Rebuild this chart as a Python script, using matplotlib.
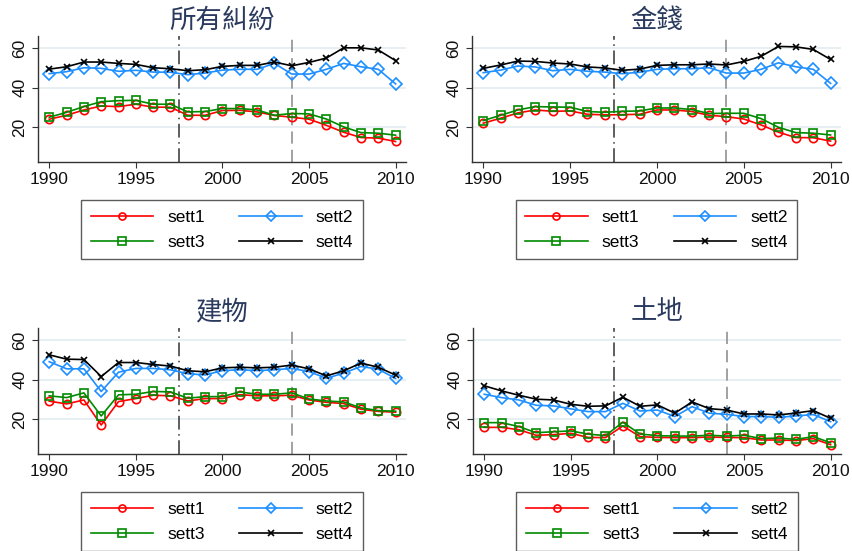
import matplotlib
matplotlib.use("Agg")
import matplotlib.pyplot as plt
from matplotlib.lines import Line2D

plt.rcParams['font.family'] = ['Liberation Sans', 'Noto Sans CJK TC', 'DejaVu Sans']

years = list(range(1990, 2011))

panel_titles = ["所有糾紛", "金錢", "建物", "土地"]
series_names = ["sett1", "sett2", "sett3", "sett4"]

# 所有糾紛
all_sett1 = [24.1, 26.1, 28.8, 30.8, 30.5, 31.7, 30.2, 30.2, 26.1, 26.1, 28.5,
             28.6, 27.8, 26.0, 25.1, 24.1, 21.0, 17.5, 14.8, 14.5, 12.8]
all_sett2 = [47.2, 48.2, 50.2, 49.9, 48.4, 48.9, 48.0, 47.9, 46.7, 47.5, 49.0,
             49.4, 49.4, 52.4, 47.0, 47.0, 49.4, 52.4, 50.7, 49.4, 42.0]
all_sett3 = [25.1, 27.6, 30.5, 33.0, 33.5, 33.7, 31.7, 31.7, 27.8, 28.0, 29.5,
             29.5, 28.8, 26.1, 27.0, 26.8, 24.2, 20.2, 17.3, 17.0, 16.0]
all_sett4 = [49.5, 50.7, 53.1, 53.1, 52.4, 51.9, 50.2, 49.7, 48.7, 49.2, 50.9,
             51.4, 51.4, 53.1, 51.2, 52.9, 55.1, 60.3, 60.3, 59.2, 53.8]

# 金錢
money_sett1 = [22.1, 24.6, 27.3, 28.8, 28.1, 28.3, 26.6, 26.3, 26.4, 26.6, 28.8,
               28.8, 28.0, 26.1, 25.4, 24.2, 21.2, 17.5, 14.8, 14.7, 13.0]
money_sett2 = [47.7, 49.0, 51.1, 50.6, 48.7, 49.4, 48.4, 48.0, 47.2, 47.9, 49.4,
               49.7, 49.7, 50.2, 47.5, 47.5, 49.4, 52.7, 50.7, 49.4, 42.3]
money_sett3 = [23.4, 26.1, 28.8, 30.5, 30.3, 30.2, 28.0, 27.6, 28.1, 28.3, 29.8,
               29.8, 29.0, 27.0, 27.1, 27.1, 24.4, 20.0, 17.3, 17.0, 16.1]
money_sett4 = [49.9, 51.6, 53.6, 53.4, 52.6, 52.1, 50.6, 50.1, 48.9, 49.5, 51.4,
               51.7, 51.7, 52.1, 51.6, 53.4, 56.0, 61.0, 60.8, 59.5, 54.4]

# 建物
bldg_sett1 = [29.2, 27.8, 29.8, 17.1, 29.0, 30.5, 32.2, 31.9, 29.3, 30.5, 30.5,
              32.5, 31.9, 31.9, 32.2, 29.8, 28.6, 28.0, 25.1, 24.0, 23.6]
bldg_sett2 = [49.2, 45.6, 45.6, 34.1, 43.9, 45.8, 45.8, 45.1, 43.1, 42.5, 44.7,
              45.1, 44.7, 45.1, 45.8, 44.2, 40.8, 43.4, 46.8, 45.4, 40.7]
bldg_sett3 = [31.9, 31.0, 33.4, 21.7, 32.4, 32.7, 34.1, 33.9, 30.7, 31.5, 31.5,
              33.9, 32.7, 32.7, 33.4, 30.3, 29.3, 28.8, 25.8, 24.4, 24.1]
bldg_sett4 = [52.7, 50.5, 50.3, 41.7, 48.8, 48.8, 47.8, 47.0, 44.6, 44.1, 46.1,
              46.4, 46.1, 46.4, 47.5, 45.6, 42.0, 44.6, 48.5, 46.4, 42.4]

# 土地
land_sett1 = [15.9, 15.9, 14.7, 11.9, 12.2, 12.9, 10.8, 10.7, 16.6, 11.2, 10.8,
              10.7, 10.7, 11.0, 10.8, 10.7, 9.5, 9.5, 9.2, 10.2, 7.1]
land_sett2 = [32.7, 31.0, 29.8, 27.1, 26.8, 25.3, 23.9, 23.9, 28.1, 24.2, 24.7,
              21.4, 26.4, 23.1, 22.5, 21.4, 21.4, 21.0, 21.7, 22.4, 18.8]
land_sett3 = [18.3, 18.3, 16.3, 13.2, 13.7, 14.1, 12.5, 11.7, 18.5, 12.5, 11.7,
              11.5, 11.5, 11.9, 11.5, 11.9, 10.2, 10.5, 9.8, 11.2, 8.1]
land_sett4 = [37.0, 34.4, 32.2, 30.2, 29.8, 27.6, 26.6, 26.8, 31.2, 26.6, 27.3,
              23.1, 28.8, 25.4, 24.7, 22.7, 22.7, 22.2, 23.2, 24.4, 20.5]

panel_data = [
    [all_sett1, all_sett2, all_sett3, all_sett4],
    [money_sett1, money_sett2, money_sett3, money_sett4],
    [bldg_sett1, bldg_sett2, bldg_sett3, bldg_sett4],
    [land_sett1, land_sett2, land_sett3, land_sett4],
]

styles = [
    dict(color="#ff0000", marker="o", ms=6.0),
    dict(color="#1e8fff", marker="D", ms=6.3),
    dict(color="#008a00", marker="s", ms=6.0),
    dict(color="#000000", marker="x", ms=4.5),
]

title_color = "#2a3a5e"
fig = plt.figure(figsize=(8.52, 5.51), dpi=100)
W, H = 852, 551

# axes boxes in pixels: (left, top, right, bottom)
boxes = [(38, 36, 406, 162), (472, 36, 841, 162),
         (38, 328, 406, 454), (473, 328, 841, 454)]

for box, title, data in zip(boxes, panel_titles, panel_data):
    l, t, r, b = box
    ax = fig.add_axes([l / W, 1 - b / H, (r - l) / W, (b - t) / H])
    ax.set_xlim(1989.35, 2010.6)
    ax.set_ylim(2.4, 66.3)
    ax.set_yticks([20, 40, 60])
    ax.set_xticks([1990, 1995, 2000, 2005, 2010])
    ax.grid(axis="y", color="#e3ecf0", lw=1.2)
    ax.set_axisbelow(True)
    for s in ("top", "right"):
        ax.spines[s].set_visible(False)
    for s in ("left", "bottom"):
        ax.spines[s].set_color("#333333")
        ax.spines[s].set_linewidth(1.0)
    ax.tick_params(axis="both", labelsize=12.5, length=4, color="#333333",
                   labelcolor="#111111")
    for lab in ax.get_yticklabels():
        lab.set_rotation(90)
        lab.set_va("center")
    ax.axvline(1997.5, color="#333333", lw=1.1, ls=(0, (9, 3, 1, 3)))
    ax.axvline(2004, color="#888888", lw=1.1, ls=(0, (8, 4)))

    for vals, st in zip(data, styles):
        ax.plot(years, vals, color=st["color"], lw=1.2,
                marker=st["marker"], ms=st["ms"],
                mfc="none", mec=st["color"], mew=1.2)

    fig.text((l + r) / 2 / W, 1 - (t - 16) / H, title, ha="center", va="center",
             fontsize=19, color=title_color, family=["Noto Sans CJK TC"])

    handles = [Line2D([], [], color=st["color"], lw=1.2, marker=st["marker"],
                      ms=st["ms"] * 0.85, mfc="none", mec=st["color"], mew=1.2)
               for st in styles]
    order = [0, 2, 1, 3]
    leg = ax.legend([handles[i] for i in order],
                    [series_names[i] for i in order],
                    ncol=2, loc="upper center", bbox_to_anchor=(0.5, -0.305),
                    borderaxespad=0.0,
                    frameon=True, fancybox=False, fontsize=12.5,
                    handlelength=3.6, columnspacing=2.0, handletextpad=0.8,
                    borderpad=0.55, labelspacing=0.55)
    leg.get_frame().set_edgecolor("#333333")
    leg.get_frame().set_linewidth(1.0)

fig.savefig("out.png", dpi=100, facecolor="white")
